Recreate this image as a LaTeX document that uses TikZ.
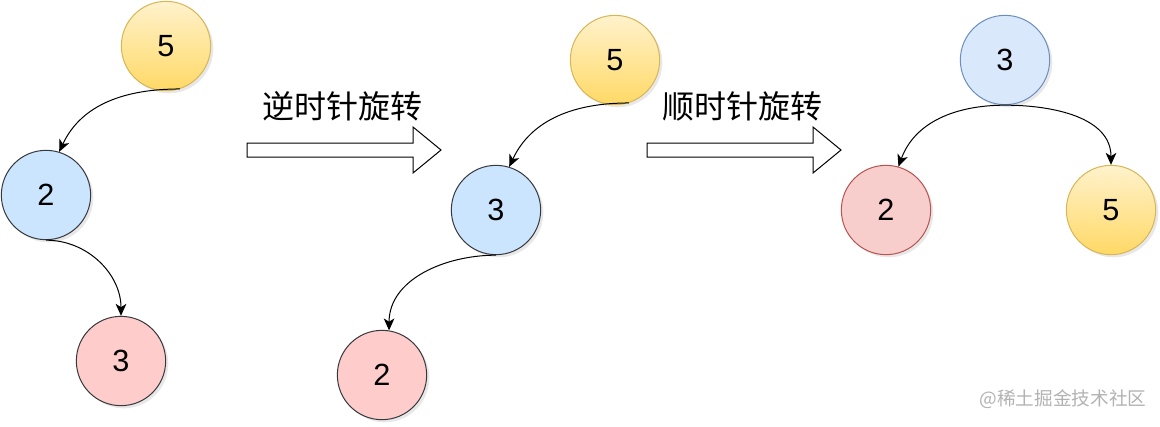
\documentclass[tikz,border=0pt]{standalone}
\usepackage{fontspec}
\setmainfont{Liberation Sans}
\newfontfamily\cjk{Noto Sans CJK SC}
\usetikzlibrary{
    positioning,
    arrows.meta,
    shadows
}
\definecolor{goldFillTop}{HTML}{FFF2CC}
\definecolor{goldFillBot}{HTML}{FFD966}
\definecolor{goldLine}{HTML}{D6B656}
\definecolor{skyFill}{HTML}{CCE5FF}
\definecolor{roseFill}{HTML}{FFCCCC}
\definecolor{darkLine}{HTML}{36393D}
\definecolor{paleBlue}{HTML}{DAE8FC}
\definecolor{blueLine}{HTML}{6C8EBF}
\definecolor{paleRed}{HTML}{F8CECC}
\definecolor{redLine}{HTML}{B85450}

\begin{document}
\begin{tikzpicture}[x=0.75pt, y=0.75pt, >={Stealth[length=9pt,width=8pt,inset=2.5pt]},
    key/.style={circle, minimum size=67pt, inner sep=0pt, line width=0.75pt,
        font=\fontsize{23}{23}\selectfont,
        drop shadow={opacity=0.18, shadow xshift=2pt, shadow yshift=-2pt}},
    gold/.style={key, draw=goldLine, top color=goldFillTop, bottom color=goldFillBot},
    sky/.style={key, draw=darkLine, fill=skyFill},
    rose/.style={key, draw=darkLine, fill=roseFill},
    skyB/.style={key, draw=blueLine, fill=paleBlue},
    roseB/.style={key, draw=redLine, fill=paleRed},
    link/.style={->, line width=0.75pt},
    turn/.style={font=\cjk\fontsize{24}{24}\selectfont}]
    \useasboundingbox (0,0) rectangle (1160,-426);

    % before: 5 -> 2 -> 3
    \node[gold] (a5) at (166,-46) {5};
    \node[sky]  (a2) at (46,-195) {2};
    \node[rose] (a3) at (121,-361) {3};
    \draw[link] (a5.-72) to[out=180, in=65] (a2.73);
    \draw[link] (a2.-90) to[out=0, in=90] (a3.90);

    % first rotation
    \draw[line width=0.75pt] (247,-143) -- (413,-143) -- (413,-127) -- (441,-150)
        -- (413,-173) -- (413,-157) -- (247,-157) -- cycle;
    \node[turn] (ccw) at (342,-106) {逆时针旋转};

    % middle: 5 -> 3 -> 2
    \node[gold] (b5) at (615,-60) {5};
    \node[sky]  (b3) at (496,-210) {3};
    \node[rose] (b2) at (382,-375) {2};
    \draw[link] (b5.-72) to[out=180, in=65] (b3.73);
    \draw[link] (b3.-90) to[out=180, in=90] (b2.81);

    % second rotation
    \draw[line width=0.75pt] (647,-143) -- (813,-143) -- (813,-127) -- (841,-150)
        -- (813,-173) -- (813,-157) -- (647,-157) -- cycle;
    \node[turn] (cw) at (742,-106) {顺时针旋转};

    % after: 3 with 2 and 5
    \node[skyB]  (c3) at (1005,-60) {3};
    \node[roseB] (c2) at (886,-210) {2};
    \node[gold]  (c5) at (1111,-210) {5};
    \draw[link] (c3.-90) to[out=180, in=70] (c2.74);
    \draw[link] (c3.-90) to[out=0, in=90] (c5.90);

    \node[font=\cjk\fontsize{14}{14}\selectfont, text=black!30] (mark) at (1063,-399) {@稀土掘金技术社区};
\end{tikzpicture}
\end{document}
